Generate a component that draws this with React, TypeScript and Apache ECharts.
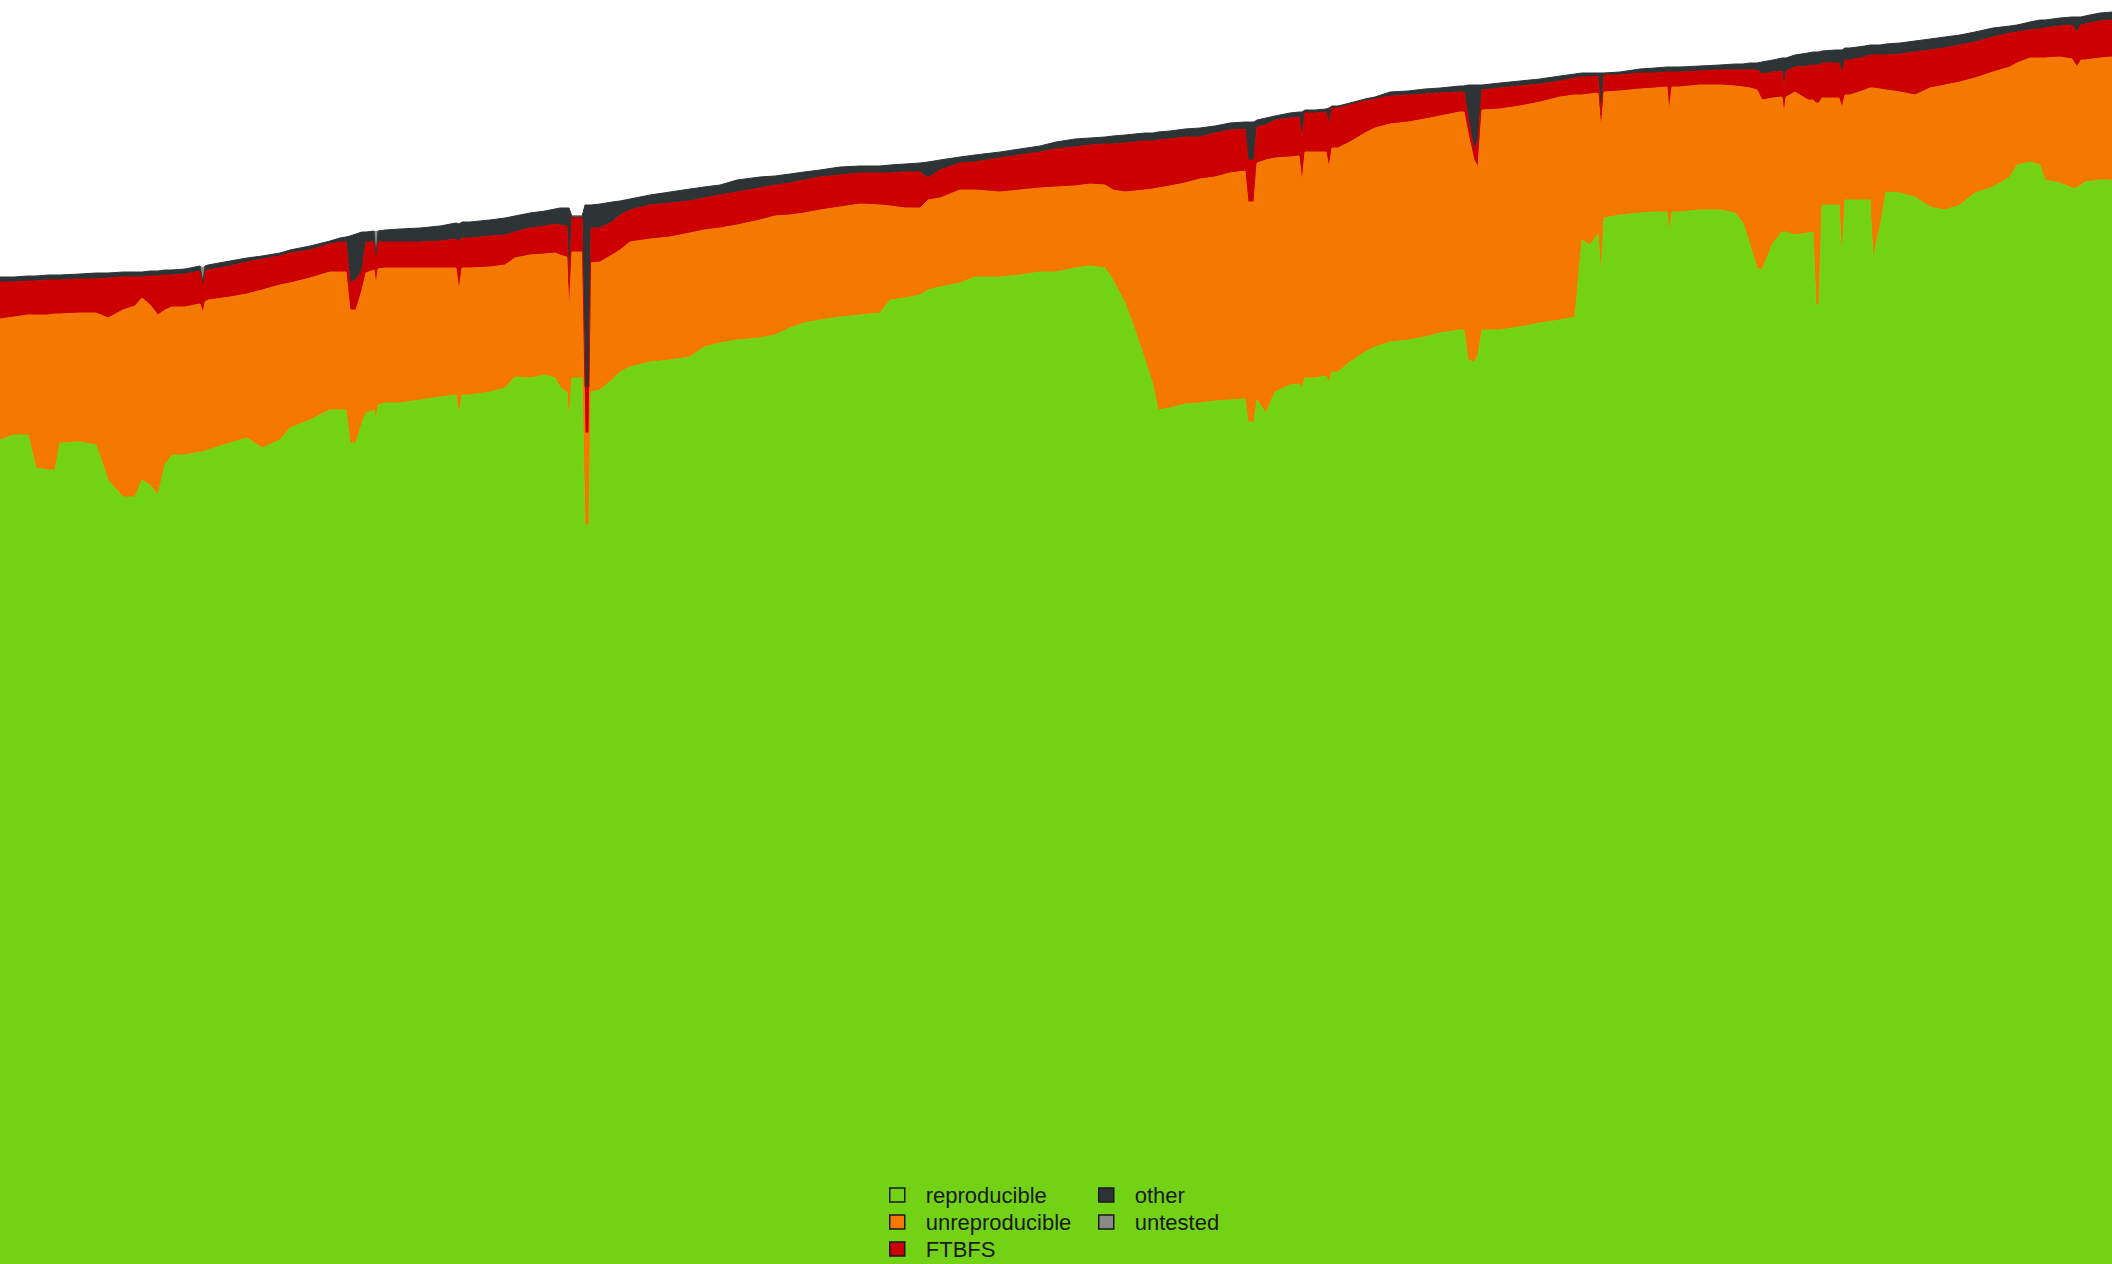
import React, { useEffect, useRef } from "react";
import * as echarts from "echarts";

// day index (x) of each sample
const days = [
  0, 14, 28, 36, 48, 55, 60, 80, 96, 108, 123, 135, 142, 150, 158, 165, 172, 185, 200, 203,
  205, 208, 230, 247, 262, 280, 290, 310, 330, 340, 346, 350, 356, 362, 366, 374, 376, 378, 385, 400,
  420, 440, 456, 459, 462, 470, 490, 505, 515, 530, 545, 555, 560, 566, 567, 569, 572, 582, 585, 589,
  591, 600, 612, 620, 630, 650, 670, 690, 704, 720, 737, 760, 775, 790, 804, 820, 840, 860, 880, 890,
  905, 920, 928, 940, 960, 975, 1000, 1020, 1040, 1056, 1075, 1090, 1105, 1113, 1125, 1135, 1145, 1153, 1158, 1170,
  1185, 1200, 1215, 1230, 1245, 1248, 1254, 1257, 1266, 1275, 1290, 1299, 1302, 1305, 1315, 1326, 1329, 1332, 1338, 1350,
  1365, 1375, 1390, 1408, 1425, 1440, 1460, 1464, 1468, 1474, 1478, 1482, 1500, 1520, 1540, 1560, 1575, 1582, 1590, 1598,
  1601, 1604, 1620, 1640, 1655, 1667, 1669, 1672, 1680, 1700, 1720, 1735, 1743, 1750, 1757, 1762, 1773, 1782, 1784, 1786,
  1795, 1808, 1813, 1816, 1819, 1822, 1835, 1839, 1842, 1845, 1850, 1865, 1870, 1873, 1880, 1886, 1900, 1915, 1930, 1945,
  1960, 1975, 1993, 2010, 2017, 2030, 2040, 2045, 2060, 2072, 2077, 2081, 2085, 2100, 2112,
];

const reproducible = [
  16480, 16580, 16580, 15920, 15880, 15880, 16420, 16440, 16380, 15680, 15340, 15340, 15680, 15580, 15380, 15980, 16180, 16180, 16240, 16240,
  16260, 16280, 16420, 16520, 16320, 16480, 16720, 16880, 17080, 17080, 17080, 16420, 16420, 16820, 17020, 17080, 16880, 17180, 17220, 17220,
  17280, 17340, 17380, 16980, 17380, 17380, 17440, 17520, 17740, 17720, 17780, 17720, 17540, 17440, 17440, 16820, 17720, 17720, 14780, 14780,
  17440, 17480, 17680, 17840, 17940, 18040, 18080, 18140, 18340, 18420, 18480, 18520, 18580, 18720, 18820, 18880, 18940, 18980, 19020, 19280,
  19320, 19380, 19480, 19540, 19620, 19740, 19740, 19780, 19840, 19840, 19920, 19960, 19920, 19680, 19220, 18680, 18080, 17580, 17080, 17120,
  17200, 17220, 17260, 17280, 17300, 16840, 16840, 17280, 17020, 17440, 17580, 17600, 17520, 17720, 17720, 17760, 17620, 17840, 17840, 18040,
  18240, 18340, 18440, 18480, 18540, 18620, 18680, 18680, 18080, 18040, 18180, 18680, 18680, 18740, 18820, 18880, 18940, 20480, 20380, 20600,
  19740, 20920, 20980, 21020, 21040, 21040, 20620, 21040, 21040, 21080, 21080, 21020, 20820, 20380, 19920, 19880, 20420, 20640, 20640, 20640,
  20580, 20620, 20640, 19180, 19180, 21180, 21180, 21180, 20080, 21280, 21280, 21280, 21280, 20120, 20740, 21440, 21420, 21340, 21140, 21080,
  21180, 21420, 21540, 21740, 21980, 22040, 21980, 21680, 21620, 21520, 21520, 21580, 21640, 21680, 21680,
];

const unreproducible = [
  2420, 2360, 2400, 3060, 3100, 3120, 2580, 2580, 2640, 3240, 3740, 3820, 3640, 3600, 3600, 3100, 2960, 2960, 2960, 2780,
  2980, 3000, 2920, 2880, 3160, 3100, 2900, 2840, 2760, 2760, 2760, 2660, 2660, 2660, 2800, 2800, 2700, 2720, 2700, 2700,
  2640, 2580, 2540, 2480, 2540, 2540, 2500, 2460, 2380, 2460, 2420, 2500, 2640, 2700, 2700, 2160, 2520, 2520, 1840, 1840,
  2580, 2560, 2500, 2440, 2500, 2460, 2460, 2480, 2340, 2300, 2300, 2360, 2380, 2260, 2200, 2200, 2200, 2220, 2160, 1880,
  1800, 1740, 1800, 1780, 1860, 1740, 1700, 1700, 1680, 1700, 1640, 1640, 1660, 1800, 2220, 2780, 3400, 3920, 4440, 4440,
  4420, 4480, 4480, 4540, 4560, 4400, 4400, 4740, 5060, 4680, 4560, 4560, 4100, 4520, 4520, 4480, 4300, 4480, 4480, 4400,
  4380, 4380, 4360, 4360, 4360, 4340, 4360, 4360, 4540, 4040, 3760, 4400, 4420, 4420, 4420, 4460, 4440, 2900, 3020, 2820,
  2940, 2520, 2480, 2480, 2480, 2500, 2420, 2500, 2500, 2500, 2500, 2540, 2720, 3140, 3560, 3400, 2900, 2700, 2340, 2700,
  2860, 2660, 2640, 4040, 4040, 2140, 2140, 2140, 3040, 2100, 2100, 2200, 2240, 3400, 2760, 2040, 2020, 2040, 2380, 2500,
  2460, 2300, 2300, 2200, 2040, 2080, 2140, 2440, 2520, 2580, 2420, 2500, 2440, 2440, 2460,
];

const ftbfs = [
  740, 700, 680, 680, 700, 680, 680, 680, 680, 800, 660, 580, 420, 580, 780, 700, 640, 660, 660, 600,
  620, 600, 620, 640, 620, 580, 600, 560, 560, 600, 600, 540, 600, 400, 620, 560, 600, 540, 520, 520,
  520, 540, 580, 980, 600, 600, 620, 600, 520, 540, 560, 580, 600, 620, 620, 640, 700, 700, 920, 920,
  700, 680, 660, 700, 640, 680, 680, 640, 640, 660, 660, 640, 620, 640, 660, 660, 640, 620, 640, 660,
  720, 720, 440, 560, 540, 560, 680, 700, 720, 760, 780, 780, 820, 920, 980, 980, 980, 960, 960, 940,
  920, 840, 880, 860, 840, 840, 840, 720, 700, 760, 780, 780, 900, 780, 780, 800, 860, 800, 800, 740,
  640, 580, 560, 540, 500, 460, 400, 400, 320, 200, 540, 400, 420, 400, 360, 320, 340, 360, 340, 340,
  300, 340, 320, 320, 300, 300, 800, 300, 300, 280, 300, 320, 340, 360, 400, 520, 520, 520, 560, 520,
  500, 680, 700, 760, 760, 700, 700, 700, 700, 700, 700, 660, 660, 660, 680, 700, 760, 860, 760, 740,
  740, 720, 700, 680, 620, 560, 580, 600, 620, 680, 700, 700, 720, 740, 740,
];

const other = [
  100, 100, 100, 100, 100, 100, 100, 100, 120, 100, 100, 100, 100, 100, 100, 100, 100, 100, 100, 0,
  100, 100, 100, 80, 60, 60, 60, 80, 60, 80, 100, 940, 920, 760, 200, 220, 0, 220, 240, 260,
  280, 300, 320, 360, 320, 320, 320, 340, 320, 300, 300, 300, 340, 360, 360, 1500, 0, 0, 3640, 3640,
  460, 480, 400, 280, 220, 200, 220, 240, 220, 200, 240, 220, 180, 180, 160, 140, 160, 140, 140, 160,
  160, 180, 320, 200, 120, 140, 120, 120, 120, 140, 160, 140, 140, 160, 160, 160, 160, 160, 160, 160,
  160, 180, 140, 140, 140, 760, 760, 140, 140, 80, 100, 100, 520, 60, 60, 60, 340, 40, 40, 40,
  40, 40, 80, 80, 100, 100, 120, 120, 640, 1300, 1100, 100, 100, 100, 100, 100, 80, 80, 80, 60,
  840, 40, 60, 80, 100, 100, 100, 100, 100, 100, 100, 120, 120, 140, 140, 240, 240, 260, 580, 260,
  240, 260, 260, 260, 260, 240, 260, 260, 460, 240, 240, 220, 200, 200, 200, 220, 220, 220, 220, 220,
  200, 200, 180, 140, 140, 160, 180, 160, 160, 160, 300, 160, 160, 160, 160,
];

const untested = [
  0, 0, 0, 0, 0, 0, 0, 0, 0, 0, 0, 0, 0, 0, 0, 0, 0, 0, 0, 320,
  0, 0, 0, 0, 0, 0, 0, 0, 0, 0, 0, 0, 0, 0, 0, 0, 480, 0, 0, 0,
  0, 0, 0, 0, 0, 0, 0, 0, 0, 0, 0, 0, 0, 0, 0, 0, 40, 40, 0, 0,
  0, 0, 0, 0, 0, 0, 0, 0, 0, 0, 0, 0, 0, 0, 0, 0, 0, 0, 0, 0,
  0, 0, 0, 0, 0, 0, 0, 0, 0, 0, 0, 0, 0, 0, 0, 0, 0, 0, 0, 0,
  0, 0, 0, 0, 0, 0, 0, 0, 0, 0, 0, 0, 0, 0, 0, 0, 0, 0, 0, 0,
  0, 0, 0, 0, 0, 0, 0, 0, 0, 0, 0, 0, 0, 0, 0, 0, 0, 0, 0, 0,
  0, 0, 0, 0, 0, 0, 0, 0, 0, 0, 0, 0, 0, 0, 0, 0, 0, 0, 0, 0,
  0, 0, 0, 0, 0, 0, 0, 0, 0, 0, 0, 0, 0, 0, 0, 0, 0, 0, 0, 0,
  0, 0, 0, 0, 0, 0, 0, 0, 0, 0, 0, 0, 0, 0, 0,
];

const seriesNames = ["reproducible", "unreproducible", "FTBFS", "other", "untested"];
const seriesColors = ["#73d216", "#f57900", "#cc0000", "#2e3436", "#888a85"];
const legendColumns = [
  ["reproducible", "unreproducible", "FTBFS"],
  ["other", "untested"],
];
const lastDay = 2112;

export default function App() {
  const ref = useRef<HTMLDivElement>(null);

  useEffect(() => {
    if (!ref.current) return;
    const chart = echarts.init(ref.current, null, { renderer: "svg" });
    const values = [reproducible, unreproducible, ftbfs, other, untested];
    const dayLabels = Array.from({ length: lastDay + 1 }, (_, i) => String(i));
    const legendBase = {
      orient: "vertical",
      top: 1184,
      height: 100,
      padding: 0,
      itemWidth: 15,
      itemHeight: 14,
      itemGap: 5,
      icon: "rect",
      selectedMode: false,
      itemStyle: { borderColor: "#1a1a1a", borderWidth: 1.5 },
      textStyle: {
        fontFamily: "Liberation Sans, Arial, sans-serif",
        fontSize: 22,
        color: "#1a1a1a",
        padding: [0, 0, 0, 16],
      },
    };
    chart.setOption({
      animation: false,
      backgroundColor: "#ffffff",
      grid: { left: 0, right: 0, top: 0, bottom: 0 },
      xAxis: { type: "category", data: dayLabels, boundaryGap: false, show: false },
      yAxis: { type: "value", min: 0, max: 25280, show: false },
      legend: [
        { ...legendBase, left: 889, data: legendColumns[0] },
        { ...legendBase, left: 1098, data: legendColumns[1] },
      ],
      series: seriesNames.map((name, k) => ({
        name,
        type: "line",
        stack: "total",
        symbol: "none",
        showSymbol: false,
        data: days.map((d, i) => [d, values[k][i]]),
        lineStyle: { width: k === 4 ? 0 : 1, color: seriesColors[k] },
        itemStyle: { color: seriesColors[k] },
        areaStyle: { color: seriesColors[k], opacity: 1 },
      })),
    });
    return () => chart.dispose();
  }, []);

  return (
    <div
      ref={ref}
      style={{ position: "absolute", left: 0, top: 0, width: 2112, height: 1264 }}
    />
  );
}
